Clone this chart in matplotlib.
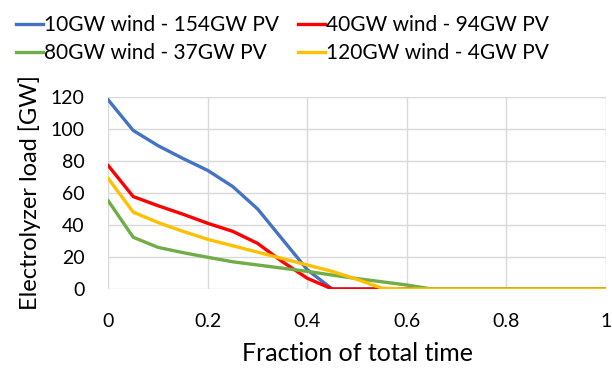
import matplotlib
matplotlib.use("Agg")
import matplotlib.pyplot as plt
import numpy as np

plt.rcParams['font.family'] = ['Lato', 'DejaVu Sans']

x = [0, 0.05, 0.1, 0.15, 0.2, 0.25, 0.3, 0.35, 0.4, 0.45, 0.5, 0.55, 0.6, 0.65, 0.7,
     0.75, 0.8, 0.85, 0.9, 0.95, 1.0]
wind10 = [118, 99, 89.5, 81.5, 74, 64, 50, 31, 12, 0, 0, 0, 0, 0, 0, 0, 0, 0, 0, 0, 0]
wind40 = [77, 57.7, 52, 46.7, 41, 36, 28.5, 17, 6.7, 0, 0, 0, 0, 0, 0, 0, 0, 0, 0, 0, 0]
wind80 = [55, 32.3, 26, 22.7, 19.8, 17, 15, 13, 11, 8.7, 6.5, 4.5, 2.5, 0, 0, 0, 0, 0, 0, 0, 0]
wind120 = [69, 48, 41.5, 36, 31, 27, 23, 19, 15, 11, 6, 0.5, 0, 0, 0, 0, 0, 0, 0, 0, 0]

labels = ["10GW wind - 154GW PV", "40GW wind - 94GW PV",
          "80GW wind - 37GW PV", "120GW wind - 4GW PV"]
colors = ["#4472C4", "#FF0000", "#70AD47", "#FFC000"]
series = [wind10, wind40, wind80, wind120]

fig = plt.figure(figsize=(6.12, 3.71), dpi=100)
ax = fig.add_axes([0.177, 0.221, 0.813, 0.518])

lines = []
for s, c, l in zip(series, colors, labels):
    ln, = ax.plot(x, s, color=c, lw=2.4, label=l, solid_joinstyle='round')
    lines.append(ln)

ax.set_xlim(0, 1)
ax.set_ylim(0, 120)
ax.set_xticks([0, 0.2, 0.4, 0.6, 0.8, 1])
ax.set_xticklabels(["0", "0.2", "0.4", "0.6", "0.8", "1"])
ax.set_yticks(np.arange(0, 121, 20))
ax.grid(True, color="#D9D9D9", lw=1)
ax.set_axisbelow(True)
for sp in ax.spines.values():
    sp.set_visible(False)
ax.tick_params(length=0, labelsize=14)
ax.tick_params(axis='x', pad=17)
ax.tick_params(axis='y', pad=17)
ax.set_xlabel("Fraction of total time", fontsize=18, labelpad=9)
ax.set_ylabel("Electrolyzer load [GW]", fontsize=17, labelpad=7)

order = [0, 2, 1, 3]
fig.legend([lines[i] for i in order], [labels[i] for i in order], ncol=2,
           loc="upper left", bbox_to_anchor=(-0.005, 1.01), frameon=False,
           fontsize=15, handlelength=1.3, handletextpad=0.05, columnspacing=0.9,
           labelspacing=0.4)

fig.savefig("out.png", dpi=100)
